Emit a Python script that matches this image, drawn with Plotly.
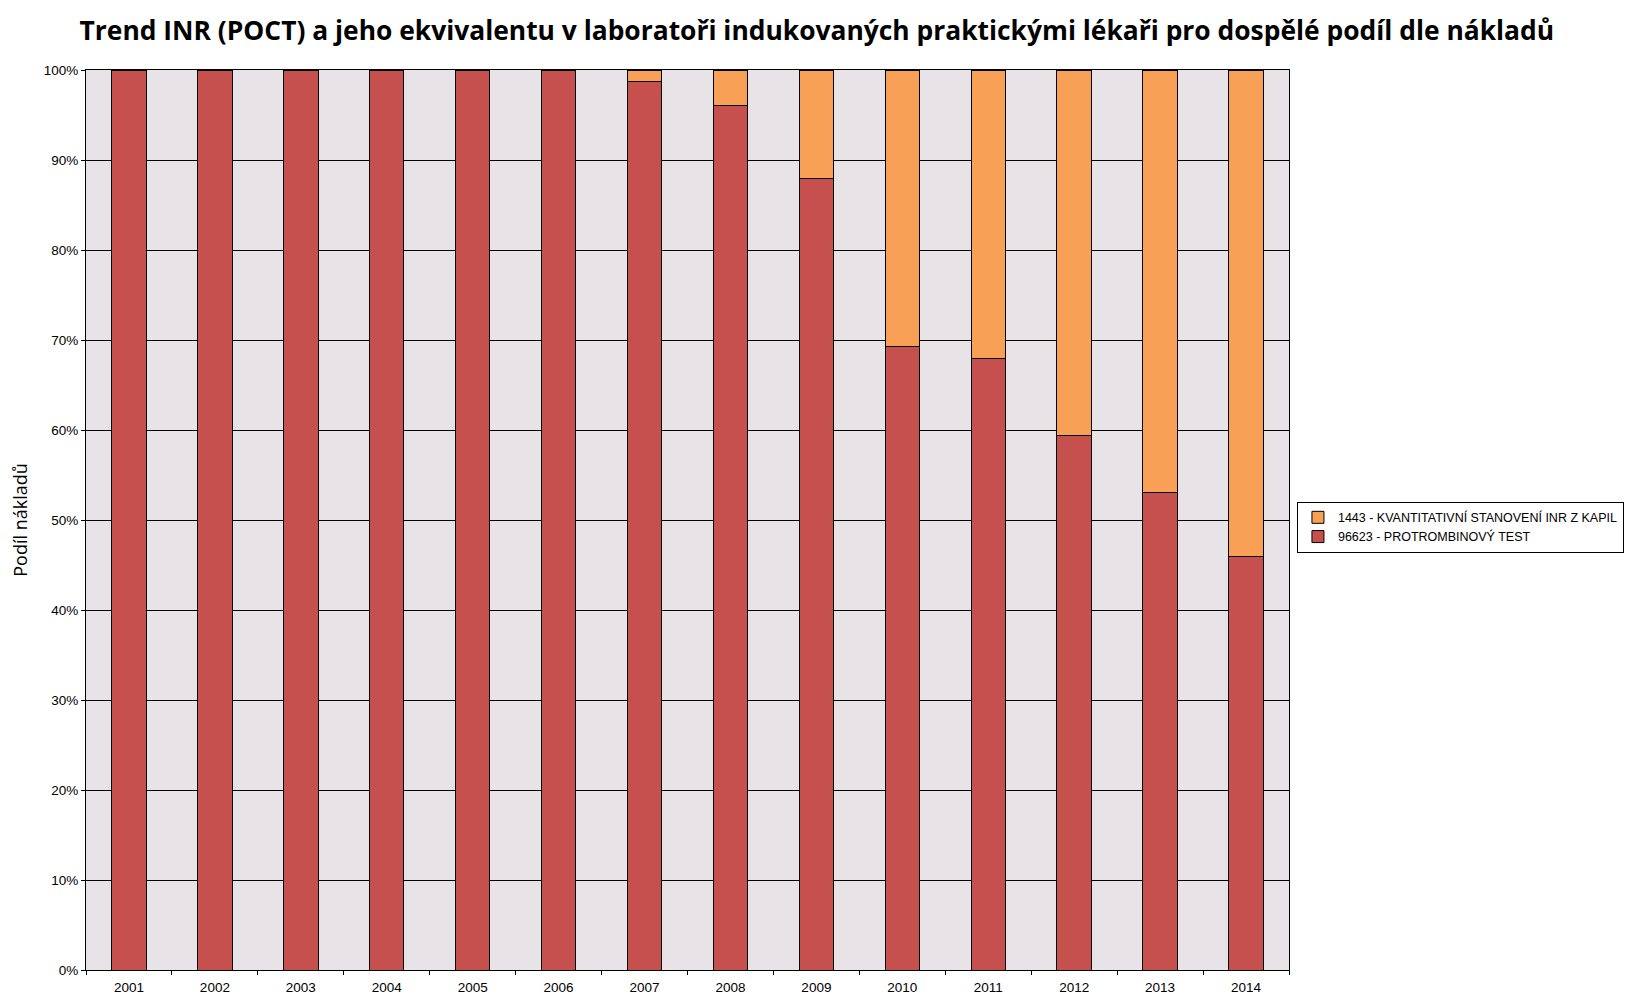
import plotly.graph_objects as go

years = ["2001", "2002", "2003", "2004", "2005", "2006", "2007",
         "2008", "2009", "2010", "2011", "2012", "2013", "2014"]
protrombin = [100.0, 100.0, 100.0, 100.0, 100.0, 100.0, 98.7,
              96.1, 87.9, 69.3, 68.0, 59.4, 53.1, 46.0]
kvantitativni = [round(100.0 - v, 1) for v in protrombin]

name_red = "96623 - PROTROMBINOVÝ TEST"
name_orange = "1443 - KVANTITATIVNÍ STANOVENÍ INR Z KAPIL"
title_text = "Trend INR (POCT) a jeho ekvivalentu v laboratoři indukovaných praktickými lékaři pro dospělé podíl dle nákladů"

fig = go.Figure()
fig.add_trace(go.Bar(x=years, y=protrombin, name=name_red,
                     marker=dict(color="#C6504D", line=dict(color="black", width=1)),
                     width=0.4))
fig.add_trace(go.Bar(x=years, y=kvantitativni, name=name_orange,
                     marker=dict(color="#F8A055", line=dict(color="black", width=1)),
                     width=0.4))

fig.update_layout(
    width=1634, height=1000,
    barmode="stack",
    paper_bgcolor="white",
    plot_bgcolor="#E7E3E7",
    margin=dict(l=78, r=353, t=62, b=38, autoexpand=False),
    title=dict(text="<b>" + title_text + "</b>", x=0.495, xref="container",
               y=1 - 23 / 1000, yanchor="middle",
               font=dict(family="Open Sans", size=26.4, color="black")),
    legend=dict(x=1.0066, xanchor="left", y=0.492, yanchor="middle",
                traceorder="reversed", bordercolor="black", borderwidth=1,
                bgcolor="white", font=dict(family="Liberation Sans", size=12.5, color="black")),
    showlegend=True,
)
fig.update_xaxes(type="category", showgrid=False, showline=True, linecolor="black",
                 linewidth=1, mirror=True, ticks="outside", tickson="boundaries",
                 ticklen=4, tickcolor="black", ticklabelstandoff=5,
                 tickfont=dict(family="Liberation Sans", size=13.5, color="black"))
fig.update_yaxes(range=[0, 100], dtick=10, ticksuffix="%", showgrid=True,
                 gridcolor="black", gridwidth=1, showline=True, linecolor="black",
                 linewidth=1, mirror=True, ticks="outside", ticklen=4, tickcolor="black",
                 zeroline=False,
                 tickfont=dict(family="Liberation Sans", size=13.5, color="black"),
                 title=dict(text="Podíl nákladů", standoff=13,
                            font=dict(family="Open Sans", size=18, color="black")))

fig.write_html("out.html")
